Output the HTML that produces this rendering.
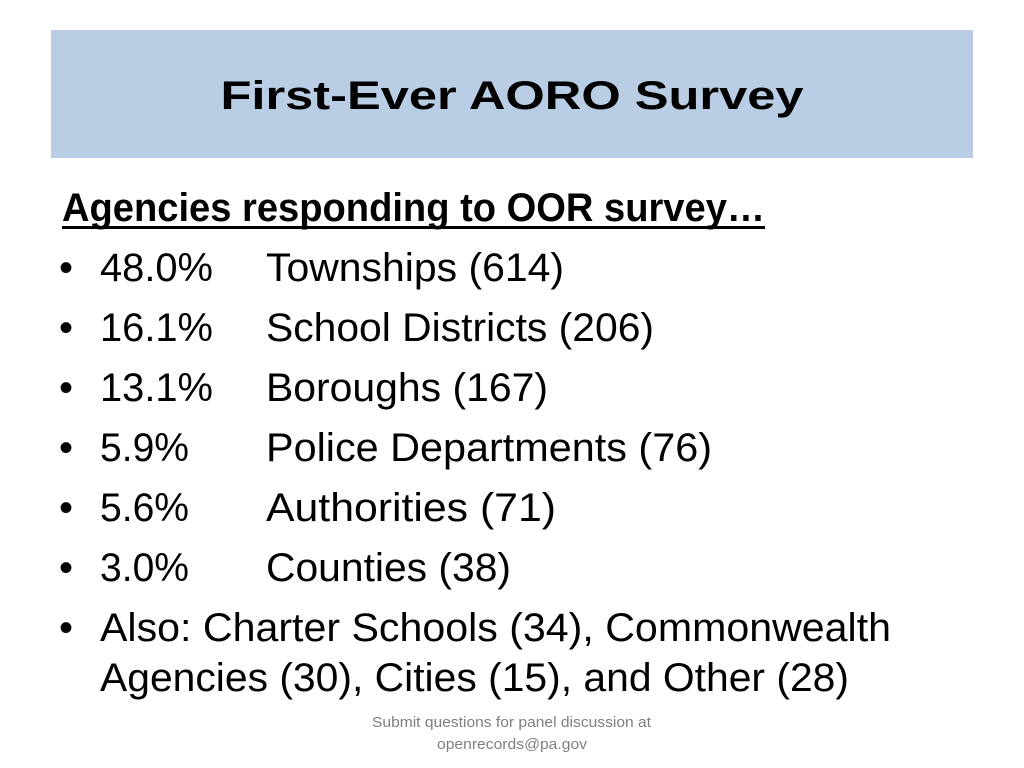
<!DOCTYPE html>
<html><head><meta charset="utf-8"><style>
body{margin:0;background:#fff;width:1024px;height:768px;overflow:hidden}
svg{display:block}
text{font-family:"Liberation Sans",sans-serif;fill:#000}
</style></head><body>
<svg width="1024" height="768">
<rect x="51" y="30" width="922" height="128" fill="#b9cde5"/>
<text x="512" y="109" text-anchor="middle" font-size="40" font-weight="bold" textLength="583" lengthAdjust="spacingAndGlyphs">First-Ever AORO Survey</text>
<text x="62" y="221" font-size="40" font-weight="bold" textLength="703" lengthAdjust="spacingAndGlyphs">Agencies responding to OOR survey…</text>
<rect x="62" y="226" width="703" height="3" fill="#000"/>
<g font-size="40">
<text x="59" y="281">•</text><text x="100" y="281" textLength="113" lengthAdjust="spacingAndGlyphs">48.0%</text><text x="266" y="281" textLength="298" lengthAdjust="spacingAndGlyphs">Townships (614)</text>
<text x="59" y="341">•</text><text x="100" y="341" textLength="113" lengthAdjust="spacingAndGlyphs">16.1%</text><text x="266" y="341" textLength="388" lengthAdjust="spacingAndGlyphs">School Districts (206)</text>
<text x="59" y="401">•</text><text x="100" y="401" textLength="113" lengthAdjust="spacingAndGlyphs">13.1%</text><text x="266" y="401" textLength="282" lengthAdjust="spacingAndGlyphs">Boroughs (167)</text>
<text x="59" y="461">•</text><text x="100" y="461" textLength="89" lengthAdjust="spacingAndGlyphs">5.9%</text><text x="266" y="461" textLength="446" lengthAdjust="spacingAndGlyphs">Police Departments (76)</text>
<text x="59" y="521">•</text><text x="100" y="521" textLength="89" lengthAdjust="spacingAndGlyphs">5.6%</text><text x="266" y="521" textLength="290" lengthAdjust="spacingAndGlyphs">Authorities (71)</text>
<text x="59" y="581">•</text><text x="100" y="581" textLength="89" lengthAdjust="spacingAndGlyphs">3.0%</text><text x="266" y="581" textLength="245" lengthAdjust="spacingAndGlyphs">Counties (38)</text>
<text x="59" y="641">•</text><text x="100" y="641" textLength="791" lengthAdjust="spacingAndGlyphs">Also: Charter Schools (34), Commonwealth</text>
<text x="100" y="691" textLength="749" lengthAdjust="spacingAndGlyphs">Agencies (30), Cities (15), and Other (28)</text>
</g>
<g font-size="15">
<text x="372" y="727" textLength="279" lengthAdjust="spacingAndGlyphs" style="fill:#7f7f7f">Submit questions for panel discussion at</text>
<text x="437" y="749" textLength="150" lengthAdjust="spacingAndGlyphs" style="fill:#7f7f7f">openrecords@pa.gov</text>
</g>
</svg>
</body></html>
